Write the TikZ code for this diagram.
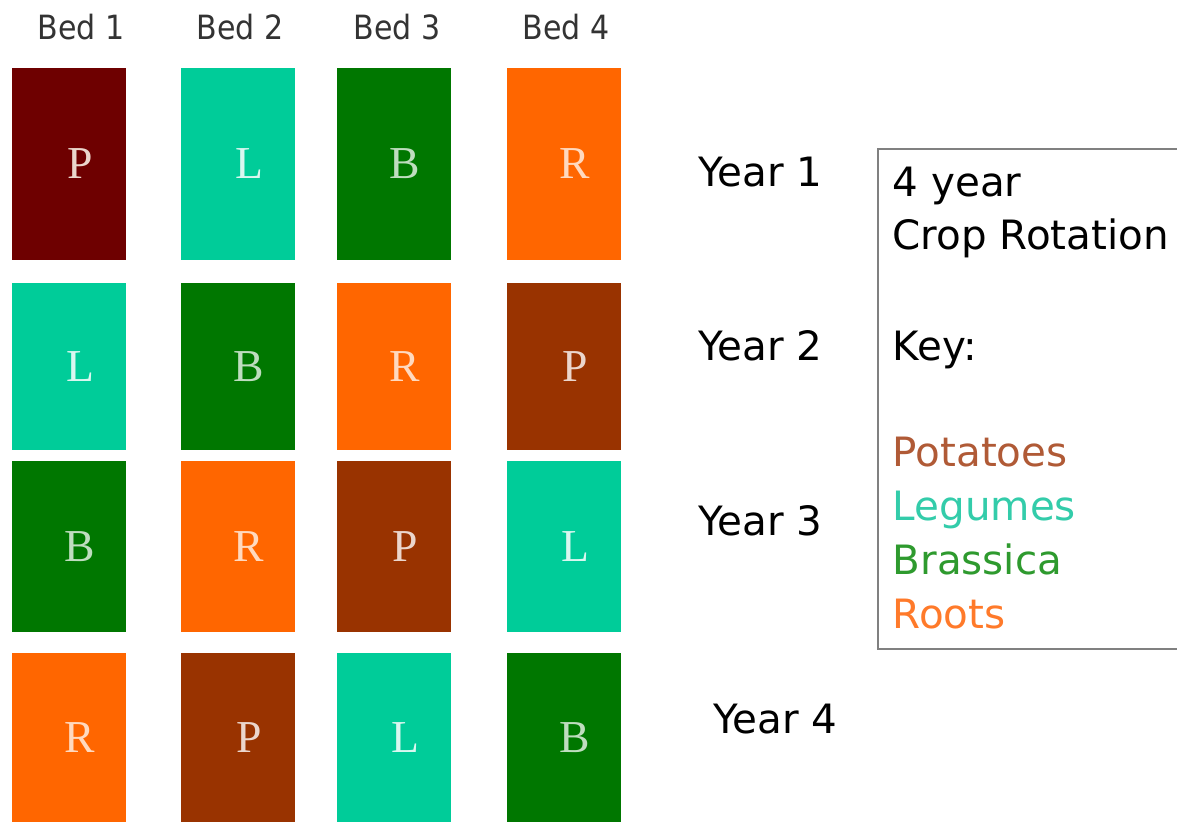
\documentclass[tikz,border=0pt]{standalone}
\usepackage{fontspec}
\setmainfont{DejaVu Sans}
\newfontfamily\bedfont{DejaVu Sans Condensed}
\newfontfamily\letterfont{Liberation Serif}
\definecolor{potdark}{HTML}{6E0000}
\definecolor{pot}{HTML}{993300}
\definecolor{leg}{HTML}{00CC99}
\definecolor{bra}{HTML}{007700}
\definecolor{roo}{HTML}{FF6600}
\definecolor{keypot}{HTML}{B05A36}
\definecolor{keyleg}{HTML}{33CCAA}
\definecolor{keybra}{HTML}{2E9A2E}
\definecolor{keyroo}{HTML}{FF7A2A}
\begin{document}
\begin{tikzpicture}[
    bed/.style={minimum width=1.14cm, inner sep=0pt, font=\letterfont\fontsize{13}{13}\selectfont,
      execute at begin node={\hspace*{0.22cm}}},
    potato/.style={bed, fill=pot, text=pot!20!white},
    legume/.style={bed, fill=leg, text=leg!15!white},
    brassica/.style={bed, fill=bra, text=bra!25!white},
    roots/.style={bed, fill=roo, text=roo!25!white},
    bedlabel/.style={anchor=base, font=\bedfont\fontsize{9.5}{9.5}\selectfont, text=black!80},
    year/.style={anchor=base west, font=\fontsize{11.5}{11.5}\selectfont},
    keytext/.style={anchor=base west, inner sep=0pt, font=\fontsize{11.5}{11.5}\selectfont}
  ]
    \clip (0,0) rectangle (11.77,-8.25);
    \fill[white] (0,0) rectangle (11.77,-8.25);

    % bed headings
    \node[bedlabel] (bed1) at (0.81,-0.39) {Bed 1};
    \node[bedlabel] (bed2) at (2.40,-0.39) {Bed 2};
    \node[bedlabel] (bed3) at (3.97,-0.39) {Bed 3};
    \node[bedlabel] (bed4) at (5.66,-0.39) {Bed 4};

    % year 1
    \node[potato, fill=potdark, minimum height=1.92cm] (y1b1) at (0.69,-1.64) {P};
    \node[legume, minimum height=1.92cm] (y1b2) at (2.38,-1.64) {L};
    \node[brassica, minimum height=1.92cm] (y1b3) at (3.94,-1.64) {B};
    \node[roots, minimum height=1.92cm] (y1b4) at (5.64,-1.64) {R};

    % year 2
    \node[legume, minimum height=1.67cm] (y2b1) at (0.69,-3.665) {L};
    \node[brassica, minimum height=1.67cm] (y2b2) at (2.38,-3.665) {B};
    \node[roots, minimum height=1.67cm] (y2b3) at (3.94,-3.665) {R};
    \node[potato, minimum height=1.67cm] (y2b4) at (5.64,-3.665) {P};

    % year 3
    \node[brassica, minimum height=1.71cm] (y3b1) at (0.69,-5.465) {B};
    \node[roots, minimum height=1.71cm] (y3b2) at (2.38,-5.465) {R};
    \node[potato, minimum height=1.71cm] (y3b3) at (3.94,-5.465) {P};
    \node[legume, minimum height=1.71cm] (y3b4) at (5.64,-5.465) {L};

    % year 4
    \node[roots, minimum height=1.69cm] (y4b1) at (0.69,-7.375) {R};
    \node[potato, minimum height=1.69cm] (y4b2) at (2.38,-7.375) {P};
    \node[legume, minimum height=1.69cm] (y4b3) at (3.94,-7.375) {L};
    \node[brassica, minimum height=1.69cm] (y4b4) at (5.64,-7.375) {B};

    % year labels
    \node[year] (year1) at (6.86,-1.86) {Year 1};
    \node[year] (year2) at (6.86,-3.60) {Year 2};
    \node[year] (year3) at (6.86,-5.35) {Year 3};
    \node[year] (year4) at (7.01,-7.33) {Year 4};

    % key
    \draw[black!50, line width=0.6pt] (8.78,-1.49) rectangle (12.2,-6.49);
    \node[keytext] (title1) at (8.92,-1.96) {4 year};
    \node[keytext] (title2) at (8.92,-2.49) {Crop Rotation};
    \node[keytext] (keyhead) at (8.92,-3.60) {Key:};
    \node[keytext, text=keypot] (kpot) at (8.92,-4.66) {Potatoes};
    \node[keytext, text=keyleg] (kleg) at (8.92,-5.20) {Legumes};
    \node[keytext, text=keybra] (kbra) at (8.92,-5.74) {Brassica};
    \node[keytext, text=keyroo] (kroo) at (8.92,-6.28) {Roots};
  \end{tikzpicture}
\end{document}
